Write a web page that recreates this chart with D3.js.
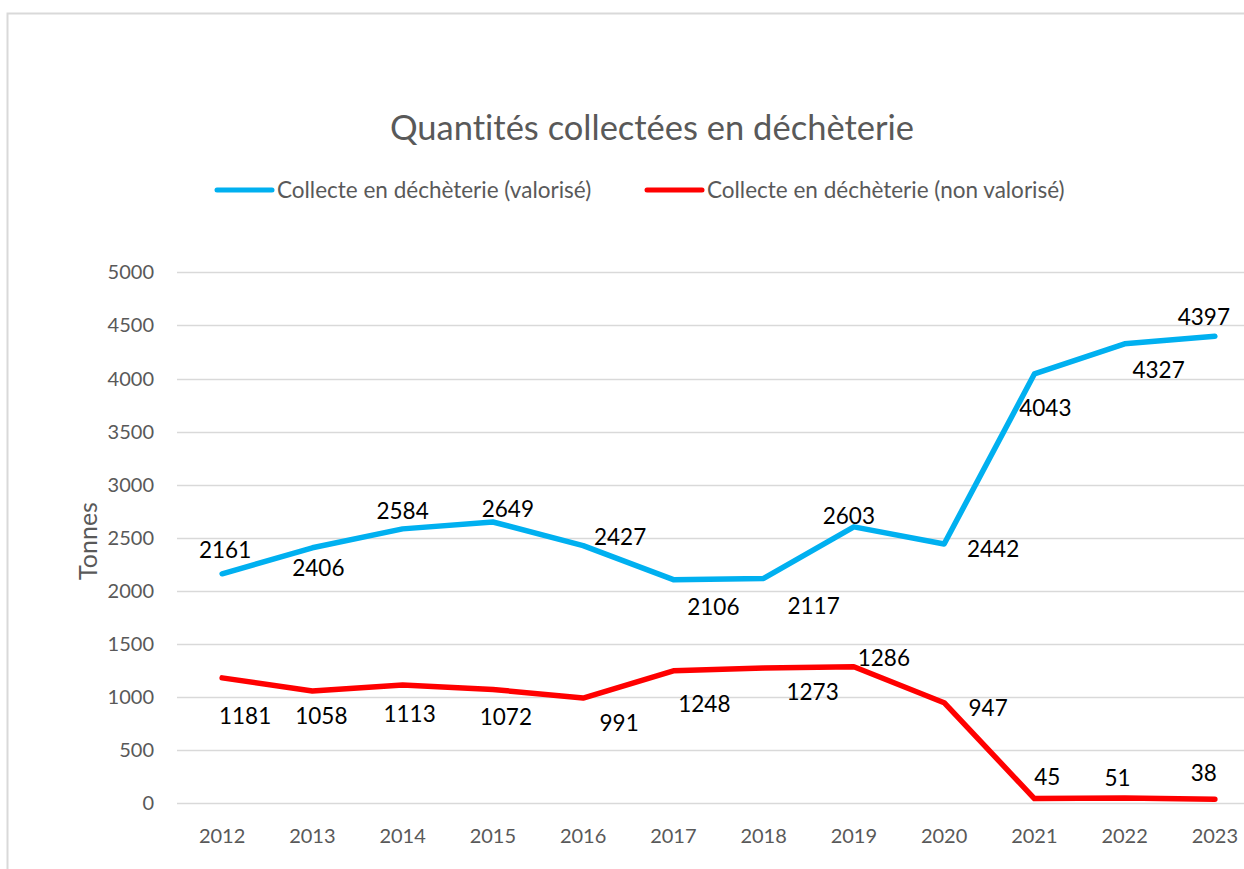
<!DOCTYPE html>
<html>
<head>
<meta charset="utf-8">
<script src="https://cdn.jsdelivr.net/npm/d3@7"></script>
<style>
  body { margin: 0; background: #fff; }
  text { font-family: Lato, "Open Sans", sans-serif; font-variant-ligatures: none; }
</style>
</head>
<body>
<script>
var years = ["2012","2013","2014","2015","2016","2017","2018","2019","2020","2021","2022","2023"];
var valorise = [2161, 2406, 2584, 2649, 2427, 2106, 2117, 2603, 2442, 4043, 4327, 4397];
var nonValorise = [1181, 1058, 1113, 1072, 991, 1248, 1273, 1286, 947, 45, 51, 38];
var yTicks = [0, 500, 1000, 1500, 2000, 2500, 3000, 3500, 4000, 4500, 5000];
var seriesNames = ["Collecte en déchèterie (valorisé)", "Collecte en déchèterie (non valorisé)"];

// label placement (Excel style), offsets in px from the point
var blueOff = [[3,-24],[6,20],[0,-18],[15,-13],[37,-8],[40,27],[50,28],[-5,-11],[49,5],[11,34],[34,26],[-11,-19]];
var redOff = [[23,38],[9,25],[7,29],[13,28],[36,25],[31,33],[49,24],[30,-9],[44,5],[13,-21],[-7,-20],[-11,-26]];

var W = 1244, H = 869;
var grey = "#595959", blue = "#00B0F0", red = "#FF0000";

var svg = d3.select("body").append("svg")
    .attr("width", W).attr("height", H);

svg.append("rect")
    .attr("x", 7.5).attr("y", 13.5)
    .attr("width", 1260).attr("height", 880)
    .attr("fill", "#fff")
    .attr("stroke", "#d9d9d9").attr("stroke-width", 2);

var x = d3.scaleBand().domain(years).range([177, 1260]);
var y = d3.scaleLinear().domain([0, 5000]).range([803.3, 272.3]);
var cx = function (d, i) { return x(years[i]) + x.bandwidth() / 2; };

// grid
svg.append("g").selectAll("line")
    .data(yTicks)
    .join("line")
    .attr("x1", 177).attr("x2", W)
    .attr("y1", d => Math.round(y(d)) + 0.5)
    .attr("y2", d => Math.round(y(d)) + 0.5)
    .attr("stroke", "#d9d9d9").attr("stroke-width", 1.3);

// y labels
svg.append("g").selectAll("text")
    .data(yTicks)
    .join("text")
    .attr("x", 154).attr("y", d => y(d))
    .attr("dy", "0.35em")
    .attr("text-anchor", "end")
    .attr("font-size", 20).attr("fill", grey)
    .text(d => d);

// x labels
svg.append("g").selectAll("text")
    .data(years)
    .join("text")
    .attr("x", d => x(d) + x.bandwidth() / 2).attr("y", 836)
    .attr("dy", "0.35em")
    .attr("text-anchor", "middle")
    .attr("font-size", 20).attr("fill", grey)
    .text(d => d);

svg.append("text")
    .attr("transform", "translate(88,541) rotate(-90)")
    .attr("dy", "0.35em")
    .attr("text-anchor", "middle")
    .attr("font-size", 25).attr("fill", grey)
    .text("Tonnes");

svg.append("text")
    .attr("x", 652).attr("y", 128)
    .attr("dy", "0.35em")
    .attr("text-anchor", "middle")
    .attr("font-size", 34.5).attr("fill", grey)
    .text("Quantités collectées en déchèterie");

// legend
var legend = [
  { name: seriesNames[0], color: blue, x: 217 },
  { name: seriesNames[1], color: red, x: 647 }
];
var lg = svg.append("g").selectAll("g").data(legend).join("g");
lg.append("line")
    .attr("x1", d => d.x).attr("x2", d => d.x + 55)
    .attr("y1", 190).attr("y2", 190)
    .attr("stroke", d => d.color).attr("stroke-width", 5)
    .attr("stroke-linecap", "round");
lg.append("text")
    .attr("x", d => d.x + 60).attr("y", 190)
    .attr("dy", "0.35em")
    .attr("font-size", 22.5).attr("fill", grey)
    .text(d => d.name);

var line = d3.line()
    .x(cx)
    .y(d => y(d));

function drawSeries(vals, color, off) {
  svg.append("path")
      .datum(vals)
      .attr("d", line)
      .attr("fill", "none")
      .attr("stroke", color).attr("stroke-width", 5.5)
      .attr("stroke-linejoin", "round")
      .attr("stroke-linecap", "round");
  svg.append("g").selectAll("text")
      .data(vals)
      .join("text")
      .attr("x", (d, i) => cx(d, i) + off[i][0])
      .attr("y", (d, i) => y(d) + off[i][1])
      .attr("dy", "0.35em")
      .attr("text-anchor", "middle")
      .attr("font-size", 22.5).attr("fill", "#000")
      .text(d => d);
}

drawSeries(valorise, blue, blueOff);
drawSeries(nonValorise, red, redOff);
</script>
</body>
</html>
